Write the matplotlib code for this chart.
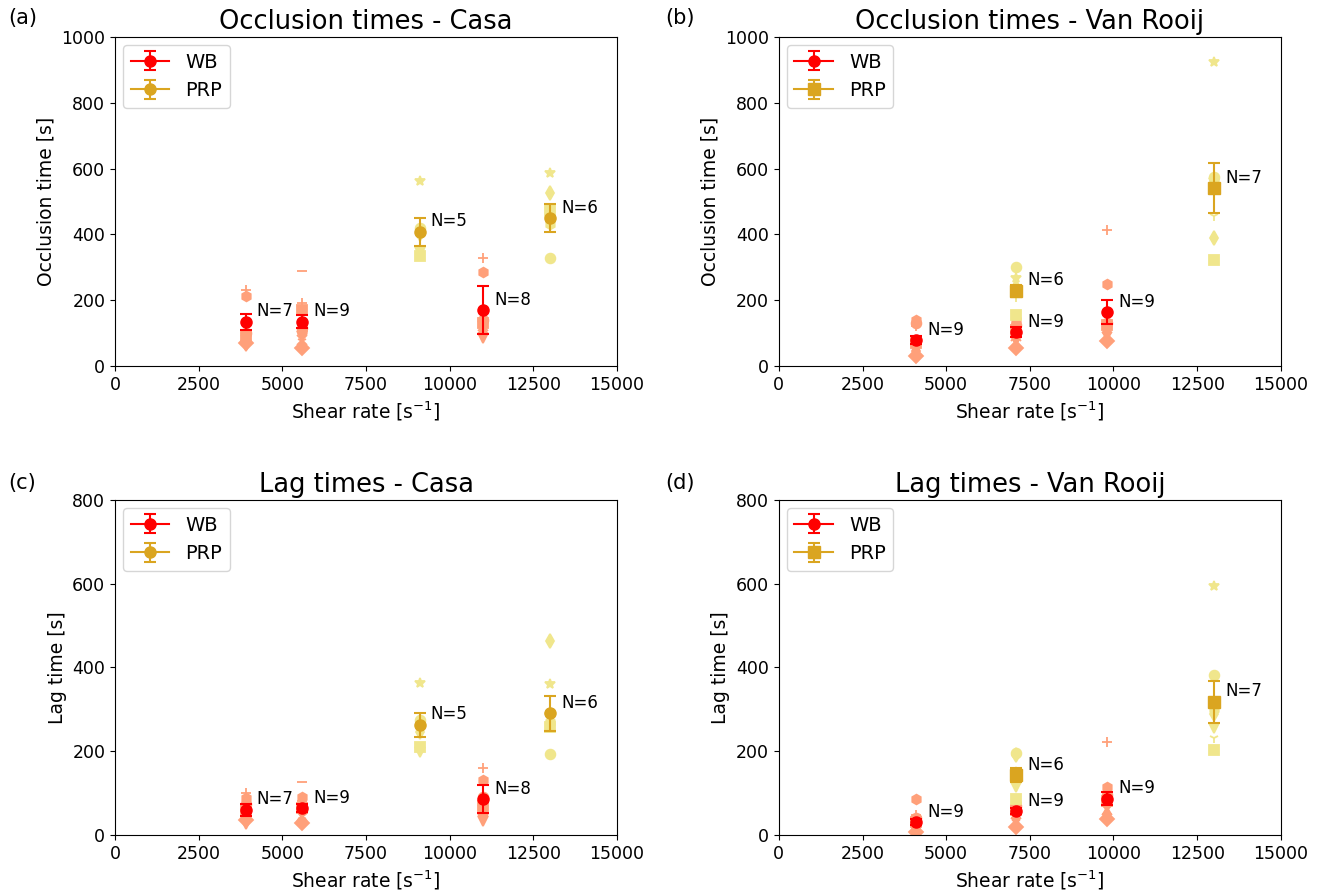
import matplotlib
matplotlib.use("Agg")
import matplotlib.pyplot as plt
import numpy as np

# ---------------- data ----------------
shear_wb_casa = [3900, 5600, 11000]
shear_prp_casa = [9100, 13000]
shear_wb_vr = [4100, 7100, 9800]
shear_prp_vr = [7100, 13000]

# (a) Occlusion times - Casa
occ_wb_casa_samples = [[231, 213, 100, 88, 78, 70, 62],
                       [290, 190, 170, 105, 115, 80, 90, 75, 55],
                       [328, 286, 140, 130, 120, 115, 100, 85]]
occ_wb_casa_mean = [134, 134, 170]
occ_wb_casa_err = [25, 20, 72]
occ_prp_casa_samples = [[562, 420, 400, 345, 335],
                        [587, 525, 474, 328, 440, 430]]
occ_prp_casa_mean = [408, 450]
occ_prp_casa_err = [43, 43]

# (b) Occlusion times - Van Rooij
occ_wb_vr_samples = [[140, 132, 120, 70, 60, 50, 45, 40, 30],
                     [140, 125, 115, 110, 95, 90, 85, 75, 55],
                     [413, 249, 130, 125, 120, 115, 100, 80, 75]]
occ_wb_vr_mean = [79, 103, 164]
occ_wb_vr_err = [12, 15, 35]
occ_prp_vr_samples = [[300, 267, 210, 225, 155, 240],
                      [924, 574, 565, 557, 455, 390, 322]]
occ_prp_vr_mean = [229, 541]
occ_prp_vr_err = [18, 75]

# (c) Lag times - Casa
lag_wb_casa_samples = [[100, 88, 75, 60, 45, 35, 25],
                       [127, 80, 65, 90, 60, 45, 50, 35, 28],
                       [160, 132, 90, 70, 60, 55, 45, 33]]
lag_wb_casa_mean = [60, 64, 86]
lag_wb_casa_err = [14, 10, 34]
lag_prp_casa_samples = [[363, 275, 245, 198, 210],
                        [360, 463, 258, 193, 280, 270]]
lag_prp_casa_mean = [263, 291]
lag_prp_casa_err = [29, 42]

# (d) Lag times - Van Rooij
lag_wb_vr_samples = [[85, 40, 48, 30, 25, 20, 15, 12, 8],
                     [75, 70, 65, 60, 55, 50, 40, 30, 20],
                     [222, 114, 95, 80, 70, 60, 50, 45, 38]]
lag_wb_vr_mean = [31, 57, 87]
lag_wb_vr_err = [8, 8, 15]
lag_prp_vr_samples = [[195, 150, 120, 115, 85, 190],
                      [594, 382, 300, 255, 232, 290, 203]]
lag_prp_vr_mean = [143, 318]
lag_prp_vr_err = [17, 50]

panel_labels = ["(a)", "(b)", "(c)", "(d)"]
titles = ["Occlusion times - Casa", "Occlusion times - Van Rooij",
          "Lag times - Casa", "Lag times - Van Rooij"]
ylabels = ["Occlusion time [s]", "Occlusion time [s]", "Lag time [s]", "Lag time [s]"]
xticks = [0, 2500, 5000, 7500, 10000, 12500, 15000]
yticks_occ = [0, 200, 400, 600, 800, 1000]
yticks_lag = [0, 200, 400, 600, 800]

# ---------------- styles ----------------
wb_markers_casa = [['+', 'h', 'o', 's', 'x', 'D', 'v'],
                   ['_', '+', 's', 'h', 'o', 'x', 'v', '1', 'D'],
                   ['+', 'h', 'o', 's', 'x', '1', 'd', 'v']]
prp_markers_casa = [['*', 'o', 'd', 'v', 's'],
                    ['*', 'd', 's', 'o', 'v', 'h']]
wb_markers_vr = [['h', 'o', '+', 's', 'v', 'x', 'd', '1', 'D'],
                 ['h', 'o', '+', 's', 'v', 'x', 'd', '1', 'D'],
                 ['+', 'h', 'o', 's', 'v', 'x', 'd', '1', 'D']]
prp_markers_vr = [['o', '*', '1', 'v', 's', 'd'],
                  ['*', 'o', 'h', 'v', '1', 'd', 's']]

WB_LIGHT = '#FFA07A'
PRP_LIGHT = '#F0E68C'
WB_COL = 'red'
PRP_COL = '#DAA520'

plt.rcParams['font.family'] = ['DejaVu Sans']

fig = plt.figure(figsize=(13.3, 8.93), dpi=100)
gs = fig.add_gridspec(2, 2, left=0.0865, right=0.963, top=0.9586, bottom=0.065,
                      wspace=0.3225, hspace=0.4036, height_ratios=[329, 335])

panels = [
    (shear_wb_casa, occ_wb_casa_samples, occ_wb_casa_mean, occ_wb_casa_err, wb_markers_casa,
     shear_prp_casa, occ_prp_casa_samples, occ_prp_casa_mean, occ_prp_casa_err, prp_markers_casa, 'o', 1000, yticks_occ),
    (shear_wb_vr, occ_wb_vr_samples, occ_wb_vr_mean, occ_wb_vr_err, wb_markers_vr,
     shear_prp_vr, occ_prp_vr_samples, occ_prp_vr_mean, occ_prp_vr_err, prp_markers_vr, 's', 1000, yticks_occ),
    (shear_wb_casa, lag_wb_casa_samples, lag_wb_casa_mean, lag_wb_casa_err, wb_markers_casa,
     shear_prp_casa, lag_prp_casa_samples, lag_prp_casa_mean, lag_prp_casa_err, prp_markers_casa, 'o', 800, yticks_lag),
    (shear_wb_vr, lag_wb_vr_samples, lag_wb_vr_mean, lag_wb_vr_err, wb_markers_vr,
     shear_prp_vr, lag_prp_vr_samples, lag_prp_vr_mean, lag_prp_vr_err, prp_markers_vr, 's', 800, yticks_lag),
]

for i, (xw, sw, mw, ew, mkw, xp, sp, mp, ep, mkp, prp_mk, ymax, yt) in enumerate(panels):
    ax = fig.add_subplot(gs[i // 2, i % 2])
    # individual samples
    for x, vals, mks in zip(xw, sw, mkw):
        for v, m in zip(vals, mks):
            ax.plot(x, v, linestyle='none', marker=m, color=WB_LIGHT, ms=7, mew=1.3, zorder=2)
    for x, vals, mks in zip(xp, sp, mkp):
        for v, m in zip(vals, mks):
            ax.plot(x, v, linestyle='none', marker=m, color=PRP_LIGHT, ms=7, mew=1.3, zorder=2)
    # means (one errorbar call per point, default solid line style)
    for k, (x, m, e) in enumerate(zip(xw, mw, ew)):
        ax.errorbar([x], [m], yerr=[e], marker='o', linestyle='-', color=WB_COL, ms=8,
                    capsize=4, elinewidth=1.5, capthick=1.5,
                    label='WB' if k == 0 else None, zorder=4)
    for k, (x, m, e) in enumerate(zip(xp, mp, ep)):
        ax.errorbar([x], [m], yerr=[e], marker=prp_mk, linestyle='-', color=PRP_COL, ms=8,
                    capsize=4, elinewidth=1.5, capthick=1.5,
                    label='PRP' if k == 0 else None, zorder=4)
    for x, m, s in zip(xw, mw, sw):
        ax.annotate(f"N={len(s)}", (x, m), xytext=(8, 1), textcoords='offset points',
                    ha='left', va='bottom', fontsize=12)
    for x, m, s in zip(xp, mp, sp):
        ax.annotate(f"N={len(s)}", (x, m), xytext=(8, 1), textcoords='offset points',
                    ha='left', va='bottom', fontsize=12)
    ax.set_xlim(0, 15000)
    ax.set_ylim(0, ymax)
    ax.set_xticks(xticks)
    ax.set_yticks(yt)
    ax.tick_params(labelsize=12.5)
    ax.set_xlabel("Shear rate [s$^{-1}$]", fontsize=13.5)
    ax.set_ylabel(ylabels[i], fontsize=13.5)
    ax.set_title(titles[i], fontsize=18.5)
    ax.legend(loc='upper left', fontsize=14, borderaxespad=0.4)

fig.text(0.006, 0.973, panel_labels[0], fontsize=15)
fig.text(0.500, 0.973, panel_labels[1], fontsize=15)
fig.text(0.006, 0.452, panel_labels[2], fontsize=15)
fig.text(0.500, 0.452, panel_labels[3], fontsize=15)

fig.savefig("out.png", dpi=100)
